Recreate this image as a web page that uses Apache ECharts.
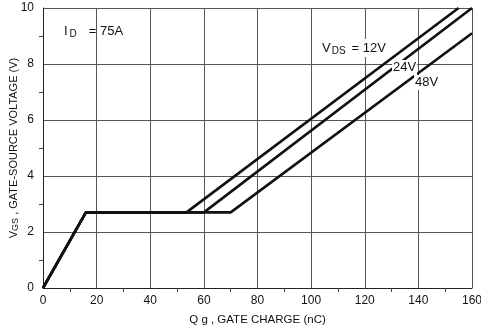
<!DOCTYPE html>
<html>
<head>
<meta charset="UTF-8">
<script src="https://cdn.jsdelivr.net/npm/echarts@6/dist/echarts.min.js"></script>
<style>
  html, body { margin: 0; padding: 0; background: #fff; }
  #chart { width: 481px; height: 330px; }
</style>
</head>
<body>
<div id="chart"></div>
<script>
// gate charge curves: [Qg (nC), VGS (V)]
const vds12 = [[0, 0], [16, 2.7], [53.5, 2.7], [155, 10]];
const vds24 = [[0, 0], [16, 2.7], [60, 2.7], [160, 10]];
const vds48 = [[0, 0], [16, 2.7], [70, 2.7], [160, 9.1]];
const seriesNames = ['12V', '24V', '48V'];

const font = 'Liberation Sans, Arial, sans-serif';
const chart = echarts.init(document.getElementById('chart'));

function curve(name, data) {
    return {
        name: name,
        type: 'line',
        data: data,
        symbol: 'none',
        lineStyle: { color: '#111', width: 2.6 },
        z: 3
    };
}

chart.setOption({
    animation: false,
    grid: { left: 43, right: 9, top: 8, bottom: 42, containLabel: false, outerBoundsMode: 'none' },
    xAxis: {
        type: 'value', min: 0, max: 160, interval: 20,
        name: 'Q g , GATE CHARGE (nC)',
        nameLocation: 'middle', nameGap: 26, nameMoveOverlap: false,
        nameTextStyle: { color: '#111', fontSize: 11.5, fontFamily: font },
        axisLine: { show: true, lineStyle: { color: '#222', width: 1 } },
        axisTick: { show: false },
        minorTick: { show: true, splitNumber: 2, length: 4, lineStyle: { color: '#444' } },
        axisLabel: { color: '#111', fontSize: 12, fontFamily: font, margin: 7 },
        splitLine: { show: true, lineStyle: { color: '#555', width: 1 } }
    },
    yAxis: {
        type: 'value', min: 0, max: 10, interval: 2,
        name: '{v|V}{s|GS}{v| , GATE-SOURCE VOLTAGE (V)}',
        nameLocation: 'middle', nameGap: 23, nameMoveOverlap: false,
        nameTextStyle: {
            color: '#111', fontFamily: font,
            rich: {
                v: { fontSize: 11, fontFamily: font, color: '#111' },
                s: { fontSize: 9, fontFamily: font, color: '#111', verticalAlign: 'bottom', padding: [4, 0, 0, 0] }
            }
        },
        axisLine: { show: true, lineStyle: { color: '#222', width: 1 } },
        axisTick: { show: false },
        minorTick: { show: true, splitNumber: 2, length: 4, lineStyle: { color: '#444' } },
        axisLabel: { color: '#111', fontSize: 12, fontFamily: font, margin: 9 },
        splitLine: { show: true, lineStyle: { color: '#555', width: 1 } }
    },
    series: [
        curve(seriesNames[0], vds12),
        curve(seriesNames[1], vds24),
        curve(seriesNames[2], vds48)
    ],
    graphic: [
        {
            type: 'text', left: 64, top: 25, z: 10,
            style: {
                text: '{v|I}{s|D}{v|= 75A}',
                rich: {
                    v: { fontSize: 13, fontFamily: font, fill: '#111' },
                    s: { fontSize: 10, fontFamily: font, fill: '#111', padding: [6, 12, 0, 2] }
                }
            }
        },
        {
            type: 'text', left: 320, top: 39, z: 10,
            style: {
                text: '{v|V}{s|DS}{v|= 12V}',
                backgroundColor: '#fff', padding: [1, 2],
                rich: {
                    v: { fontSize: 13, fontFamily: font, fill: '#111' },
                    s: { fontSize: 10, fontFamily: font, fill: '#111', padding: [6, 6, 0, 1] }
                }
            }
        },
        {
            type: 'text', left: 392, top: 60, z: 10,
            style: { text: '24V', fontSize: 13, fontFamily: font, fill: '#111', backgroundColor: '#fff', padding: [1, 1] }
        },
        {
            type: 'text', left: 414, top: 75, z: 10,
            style: { text: '48V', fontSize: 13, fontFamily: font, fill: '#111', backgroundColor: '#fff', padding: [1, 1] }
        }
    ]
});
</script>
</body>
</html>
